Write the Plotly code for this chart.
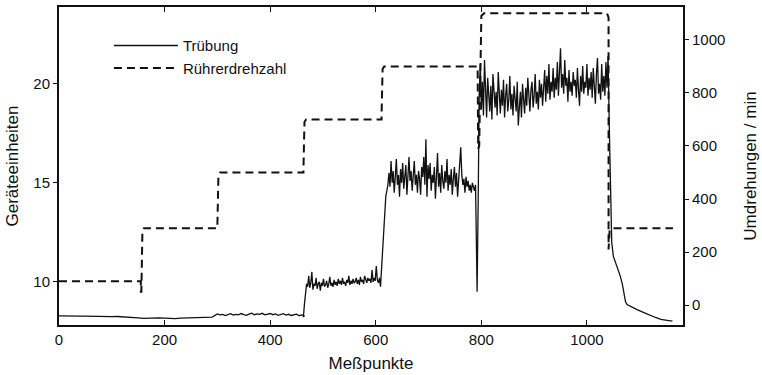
import plotly.graph_objects as go

# Rührerdrehzahl (rpm) as a step profile over the measurement index
rpm_x = [0, 155, 155, 156, 158, 161, 300, 300, 302, 305, 463, 463, 465, 468, 611, 611, 613, 616,
         793, 794, 796, 800, 805, 1038, 1041, 1041, 1043, 1046, 1163]
rpm_y = [90, 90, 50, 50, 280, 290, 290, 300, 490, 500, 500, 510, 690, 700, 700, 720, 890, 900,
         900, 590, 600, 1090, 1100, 1100, 1085, 210, 280, 290, 290]

# Trübung, baseline section
turb_a_start, turb_a_step = 0, 10
turb_a = [8.28, 8.27, 8.28, 8.26, 8.27, 8.27, 8.26, 8.25, 8.26, 8.25, 8.24, 8.25, 8.24, 8.23, 8.22,
          8.18, 8.15, 8.17, 8.16, 8.18, 8.17, 8.16, 8.14,
          8.17, 8.18, 8.19, 8.20, 8.19, 8.21, 8.22]
turb_a2_start, turb_a2_step = 300, 5
turb_a2 = [8.38, 8.33, 8.36, 8.30, 8.34, 8.39, 8.32, 8.36, 8.33, 8.40, 8.35, 8.31, 8.37, 8.42, 8.34, 8.38,
           8.36, 8.41, 8.33, 8.37, 8.40, 8.34, 8.38, 8.31, 8.35, 8.39, 8.32, 8.36, 8.30, 8.34, 8.37, 8.29,
           8.33, 8.27]

# Trübung at 700 rpm (every 2nd point)
turb_b_start, turb_b_step = 463, 2
turb_b = [8.25, 8.9, 9.6, 9.9, 9.75, 10.3, 9.7, 9.95, 10.5, 9.6,
          9.9, 9.8, 10.2, 9.65, 9.9, 10.0, 9.55, 9.95, 9.8, 10.15,
          9.75, 9.85, 10.05, 9.7, 9.9, 10.25, 9.8, 9.95, 9.75, 10.1,
          9.85, 10.0, 9.8, 10.15, 9.9, 10.05, 9.85, 10.2, 9.9, 10.0,
          9.8, 10.1, 9.95, 10.3, 9.85, 10.05, 9.9, 10.15, 9.95, 10.0,
          10.2, 9.9, 10.1, 9.85, 10.25, 10.0, 10.1, 9.9, 10.3, 10.05,
          9.95, 10.2, 10.05, 10.15, 9.95, 10.6, 10.0, 10.2, 10.05, 10.8,
          10.1, 9.95, 10.2, 9.75]

# Trübung at 900 rpm
turb_c_start, turb_c_step = 613, 2
turb_c = [11.5, 12.8, 13.8, 14.3, 14.6, 14.9, 15.5, 14.8, 16.1, 15.0,
          15.6, 14.5, 15.3, 16.2, 14.9, 15.4, 14.3, 15.7, 15.0, 16.0,
          14.7, 15.5, 15.9, 14.4, 15.2, 16.3, 15.1, 15.6, 14.6, 15.3,
          16.1, 14.9, 15.4, 14.5, 15.6, 15.2, 14.4, 15.8, 15.3, 16.3,
          14.9, 17.2, 14.3, 15.9, 15.2, 16.0, 14.6, 15.4, 15.0, 15.8,
          14.2, 15.3, 16.5, 14.8, 15.5, 14.5, 15.9, 15.1, 14.7, 15.6,
          15.0, 16.2, 14.6, 15.4, 14.9, 15.7, 14.4, 15.2, 15.8, 14.8,
          15.5, 14.3, 15.1, 16.0, 16.8, 15.4, 14.9, 15.2, 14.5, 15.3,
          14.8, 15.1, 14.6, 14.9, 14.5, 15.0, 14.7, 14.6, 14.9]

# Trübung at 1100 rpm
turb_d_start, turb_d_step = 792, 2
turb_d = [9.5, 14.0, 19.5, 21.0, 18.7, 20.1, 18.4, 21.2, 19.0, 18.3,
          20.3, 19.1, 18.6, 19.9, 18.2, 20.5, 19.3, 18.8, 19.6, 18.4,
          20.6, 19.0, 18.5, 19.7, 18.9, 20.2, 18.3, 19.4, 20.0, 18.6,
          19.2, 20.4, 18.7, 19.5, 18.4, 19.9, 19.1, 18.6, 20.1, 17.9,
          18.8, 19.6, 18.3, 20.0, 19.2, 18.5, 19.8, 18.9, 20.3, 19.0,
          18.6, 19.7, 20.1, 18.8, 19.4, 20.5, 19.0, 19.6, 18.7, 20.2,
          19.3, 20.0, 18.9, 19.8, 20.7, 19.1, 20.4, 19.5, 21.0, 19.2,
          20.1, 19.6, 20.8, 19.3, 20.3, 19.7, 21.1, 19.4, 20.6, 21.8,
          19.8, 20.5, 19.5, 21.2, 19.9, 20.3, 19.1, 20.7, 19.6, 20.1,
          19.4, 20.6, 19.9, 20.2, 19.3, 20.8, 19.7, 18.9, 20.4, 19.6,
          20.9, 19.5, 20.1, 19.8, 21.0, 19.4, 20.3, 19.7, 20.6, 19.3,
          20.8, 19.6, 19.0, 20.5, 21.3, 19.5, 20.0, 19.2, 21.0, 19.6,
          20.4, 19.4, 21.1, 19.8, 21.4]

# Trübung after switching back to low speed
turb_e_x = [1043, 1045, 1047, 1050, 1054, 1058, 1063, 1067, 1070, 1073, 1076, 1085, 1095,
            1108, 1120, 1130, 1140, 1150, 1158, 1162]
turb_e = [17.0, 14.5, 12.0, 11.3, 11.0, 10.7, 10.3, 9.9, 9.4, 9.0, 8.85, 8.72, 8.6,
          8.45, 8.3, 8.2, 8.1, 8.05, 8.03, 8.03]

x_ticks = [0, 200, 400, 600, 800, 1000]
left_ticks = [10, 15, 20]
right_ticks = [0, 200, 400, 600, 800, 1000]


def seg_x(start, step, vals):
    return [start + step * i for i in range(len(vals))]


turb_x = (seg_x(turb_a_start, turb_a_step, turb_a) + seg_x(turb_a2_start, turb_a2_step, turb_a2)
          + seg_x(turb_b_start, turb_b_step, turb_b)
          + seg_x(turb_c_start, turb_c_step, turb_c) + seg_x(turb_d_start, turb_d_step, turb_d)
          + turb_e_x)
turb_y = turb_a + turb_a2 + turb_b + turb_c + turb_d + turb_e

FONT = "Liberation Sans, Arial, Helvetica, sans-serif"
INK = "#111111"

fig = go.Figure()
fig.add_trace(go.Scatter(x=turb_x, y=turb_y, mode="lines", name="Trübung",
                         line=dict(color=INK, width=1.3), yaxis="y"))
fig.add_trace(go.Scatter(x=rpm_x, y=rpm_y, mode="lines", name="Rührerdrehzahl",
                         line=dict(color=INK, width=2, dash="8px,5px"), yaxis="y2"))

fig.update_layout(
    width=762, height=375,
    margin=dict(l=59, r=76, t=5, b=50),
    paper_bgcolor="white", plot_bgcolor="white",
    font=dict(family=FONT, size=15, color=INK),
    showlegend=True,
    legend=dict(x=0.08, y=0.93, xanchor="left", yanchor="top", bgcolor="rgba(0,0,0,0)",
                font=dict(size=15), itemwidth=64, tracegroupgap=0),
    xaxis=dict(range=[0, 1182], tickvals=x_ticks, ticks="inside", ticklen=5, tickwidth=1.2,
               tickcolor=INK, showline=True, linecolor=INK, linewidth=2,
               mirror="ticks", showgrid=False, zeroline=False,
               title=dict(text="Meßpunkte", font=dict(size=17), standoff=10)),
    yaxis=dict(range=[7.82, 23.88], tickvals=left_ticks, ticks="outside", ticklen=4, tickwidth=1.2,
               tickcolor=INK, showline=True, linecolor=INK, linewidth=2,
               showgrid=False, zeroline=False,
               title=dict(text="Geräteeinheiten", font=dict(size=17), standoff=10)),
    yaxis2=dict(range=[-75, 1124], tickvals=right_ticks, overlaying="y", side="right",
                ticks="outside", ticklen=4, tickwidth=1.2, tickcolor=INK,
                showline=True, linecolor=INK, linewidth=2, showgrid=False, zeroline=False,
                title=dict(text="Umdrehungen / min", font=dict(size=17), standoff=20)),
)

fig.write_html("out.html")
